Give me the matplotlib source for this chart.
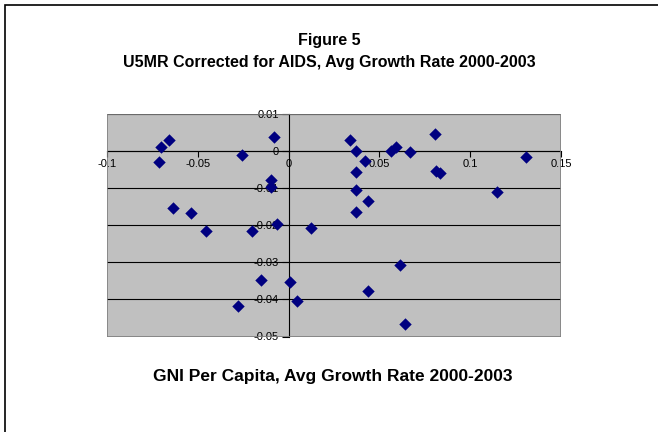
import matplotlib
matplotlib.use("Agg")
import matplotlib.pyplot as plt
from matplotlib.patches import Rectangle

# GNI per capita growth (x) vs. AIDS-corrected U5MR growth (y), 2000-2003
gni_growth = [-0.0661, -0.0704, -0.0713, -0.0259, -0.0079, -0.0097, -0.0097,
              -0.0634, -0.0538, -0.0454, -0.0202, -0.0064, 0.0123, 0.0338,
              0.0371, 0.0419, 0.0371, 0.0371, 0.0439, 0.0371, 0.0564, 0.0592,
              0.0667, 0.0805, 0.0814, 0.0836, 0.1149, 0.1305, -0.0154, 0.0006,
              0.0048, -0.0279, 0.0612, 0.0439, 0.0642]
u5mr_growth = [0.0030, 0.0010, -0.0030, -0.0013, 0.0038, -0.0080, -0.0098,
               -0.0155, -0.0167, -0.0216, -0.0216, -0.0196, -0.0208, 0.0030,
               0.0000, -0.0027, -0.0058, -0.0105, -0.0136, -0.0166, -0.0002, 0.0010,
               -0.0004, 0.0045, -0.0055, -0.0059, -0.0112, -0.0017, -0.0349, -0.0353,
               -0.0404, -0.0417, -0.0308, -0.0378, -0.0466]

x_ticks = [-0.1, -0.05, 0, 0.05, 0.1, 0.15]
x_labels = ["-0.1", "-0.05", "0", "0.05", "0.1", "0.15"]
y_ticks = [-0.05, -0.04, -0.03, -0.02, -0.01, 0, 0.01]
y_labels = ["-0.05", "-0.04", "-0.03", "-0.02", "-0.01", "0", "0.01"]

plt.rcParams["font.family"] = ["Liberation Sans", "DejaVu Sans"]

W, H = 658, 432
fig = plt.figure(figsize=(W / 100, H / 100), dpi=100)
fig.patch.set_facecolor("white")

# outer chart frame (only left/top edges fall inside the canvas)
fig.add_artist(Rectangle((4.5 / W, -0.1), 1.2, 1 - 4.5 / H + 0.1,
                         transform=fig.transFigure, fill=False,
                         edgecolor="black", linewidth=1.2))

left, right, top, bottom = 107, 561, 113.5, 336.5
ax = fig.add_axes([left / W, 1 - bottom / H, (right - left) / W, (bottom - top) / H])
ax.set_facecolor("#C0C0C0")
ax.set_xlim(-0.1, 0.15)
ax.set_ylim(-0.05, 0.01)

for y in y_ticks:
    ax.axhline(y, color="black", linewidth=0.8, zorder=1)

ax.scatter(gni_growth, u5mr_growth, marker="D", s=40, color="#000080",
           linewidths=0, zorder=3)

for name in ["top", "right", "left", "bottom"]:
    ax.spines[name].set_visible(False)
frame = Rectangle((0, 0), 1, 1, transform=ax.transAxes, fill=False,
                  edgecolor="#808080", linewidth=1.2, zorder=4)
ax.add_patch(frame)

# axes cross at the origin, Excel style
for name in ["left", "bottom"]:
    ax.spines[name].set_visible(True)
    ax.spines[name].set_position(("data", 0))
    ax.spines[name].set_linewidth(0.8)
    ax.spines[name].set_zorder(2)

ax.set_xticks(x_ticks)
ax.set_xticklabels(x_labels)
ax.set_yticks(y_ticks)
ax.set_yticklabels(y_labels)
ax.tick_params(axis="both", direction="out", width=0.8,
               labelsize=8, color="black")
ax.tick_params(axis="x", length=4, pad=2)
ax.tick_params(axis="y", length=5, pad=2)

fig.text(0.5, 1 - 41 / H, "Figure 5", ha="center", va="center",
         fontsize=11.5, fontweight="bold")
fig.text(0.5, 1 - 62 / H, "U5MR Corrected for AIDS, Avg Growth Rate 2000-2003",
         ha="center", va="center", fontsize=11.5, fontweight="bold")
fig.text(333 / W, 1 - 377 / H, "GNI Per Capita, Avg Growth Rate 2000-2003",
         ha="center", va="center", fontsize=12.5, fontweight="bold")

fig.savefig("out.png", dpi=100)
